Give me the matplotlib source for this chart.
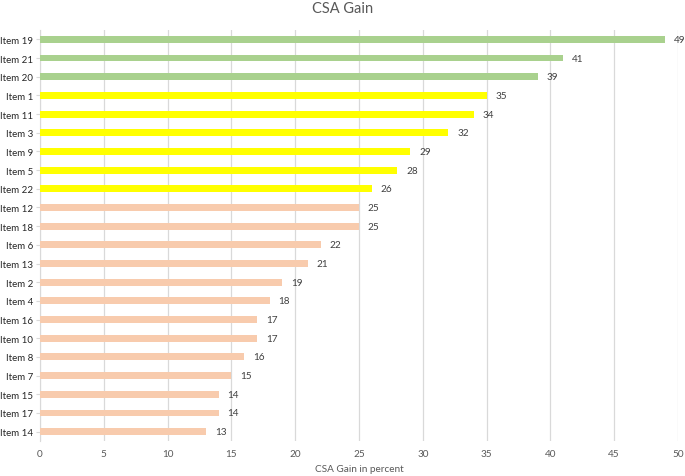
import matplotlib
matplotlib.use("Agg")
import matplotlib.pyplot as plt

items = ["Item 19", "Item 21", "Item 20", "Item 1", "Item 11", "Item 3", "Item 9", "Item 5",
         "Item 22", "Item 12", "Item 18", "Item 6", "Item 13", "Item 2", "Item 4", "Item 16",
         "Item 10", "Item 8", "Item 7", "Item 15", "Item 17", "Item 14"]
values = [49, 41, 39, 35, 34, 32, 29, 28, 26, 25, 25, 22, 21, 19, 18, 17, 17, 16, 15, 14, 14, 13]
groups = ["g"] * 3 + ["y"] * 6 + ["p"] * 13
palette = {"g": "#A9D18E", "y": "#FFFF00", "p": "#F8CBAD"}
xticks = [0, 5, 10, 15, 20, 25, 30, 35, 40, 45, 50]

plt.rcParams['font.family'] = ['Lato', 'DejaVu Sans']

fig = plt.figure(figsize=(6.85, 4.77), dpi=100)
n = len(items)
top_px, bot_px = 31.0, 442.0
ax = fig.add_axes([40/685, 1 - bot_px/477, (678-40)/685, (bot_px-top_px)/477])

ypos = list(range(n))
ax.barh(ypos, values, height=0.37, color=[palette[g] for g in groups], zorder=3)
for y, v in zip(ypos, values):
    ax.text(v + 0.7, y, str(v), va='center', ha='left', fontsize=7.2, color='#404040')

ax.set_ylim(n - 0.5, -0.5)
ax.set_xlim(0, 50)
ax.set_yticks(ypos)
ax.set_yticklabels(items, fontsize=7, color='#262626')
ax.set_xticks(xticks)
ax.set_xticklabels([str(t) for t in xticks], fontsize=7.2, color='#595959')
ax.xaxis.grid(True, color='#D9D9D9', linewidth=0.9, zorder=0)
ax.tick_params(axis='x', length=0, pad=6)
ax.tick_params(axis='y', length=3, color='#D9D9D9', pad=2)
for s in ['top', 'right', 'bottom']:
    ax.spines[s].set_visible(False)
ax.spines['left'].set_color('#D9D9D9')

ax.set_xlabel("CSA Gain in percent", fontsize=7.2, color='#595959', labelpad=4)
fig.text(0.5, 0.995, "CSA Gain", ha='center', va='top', fontsize=10.5, color='#595959')

fig.savefig("out.png", dpi=100)
